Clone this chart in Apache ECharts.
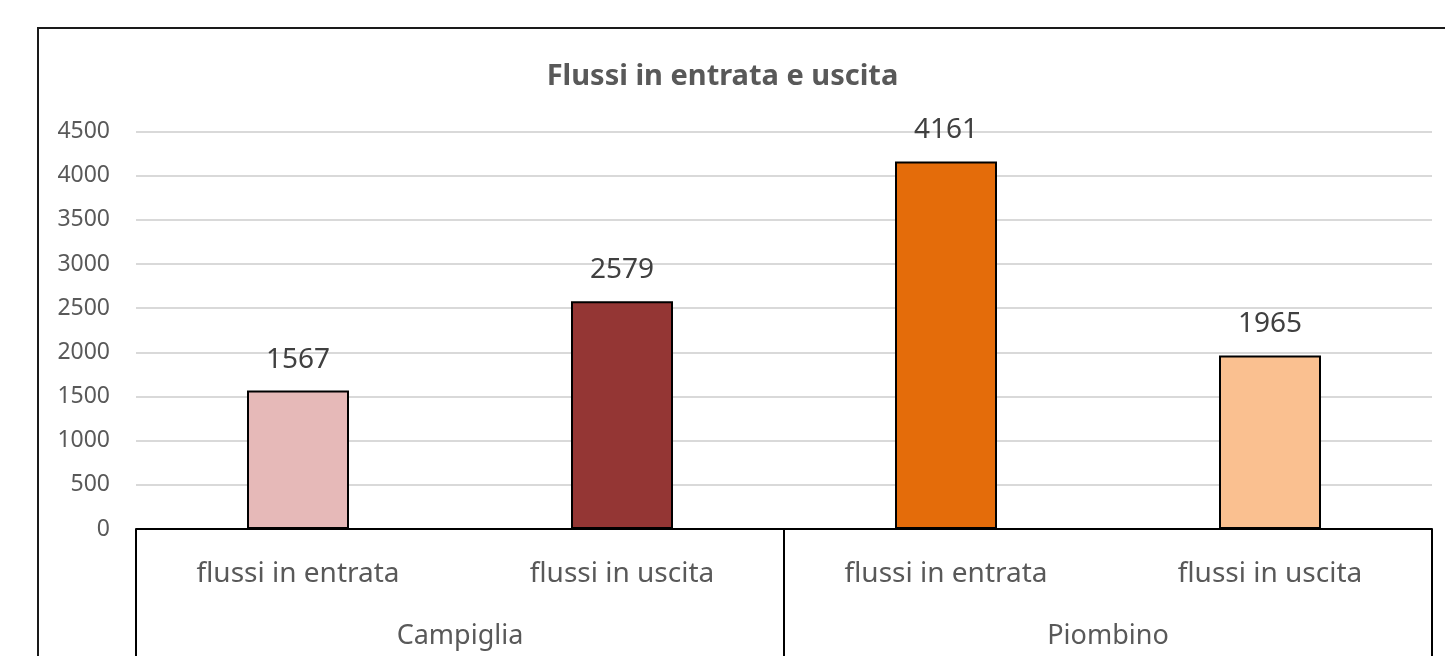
<!DOCTYPE html>
<html>
<head>
<meta charset="utf-8">
<style>
  html, body { margin: 0; padding: 0; background: #fff; }
  #chart { width: 1445px; height: 656px; }
</style>
<script src="https://cdn.jsdelivr.net/npm/echarts@6/dist/echarts.min.js"></script>
</head>
<body>
<div id="chart"></div>
<script>
// data
const categories = ['flussi in entrata', 'flussi in uscita', 'flussi in entrata', 'flussi in uscita']
const groups = ['Campiglia', 'Piombino']
const values = [1567, 2579, 4161, 1965]

// one colour per bar
const barColors = ['#E6B9B8', '#943634', '#E46C0A', '#FAC090']

const FONT = '"Noto Sans", "Open Sans", sans-serif'

const chart = echarts.init(document.getElementById('chart'))
chart.setOption({
  animation: false,
  title: {
    text: 'Flussi in entrata e uscita',
    left: 'center',
    top: 57,
    textStyle: { fontFamily: FONT, fontSize: 29, fontWeight: 'bold', color: '#595959' }
  },
  graphic: [{
    type: 'rect',
    shape: { x: 38, y: 28, width: 1500, height: 700 },
    style: { fill: 'none', stroke: '#1a1a1a', lineWidth: 2 },
    silent: true
  }],
  grid: { left: 136, right: 13, top: 131.5, bottom: 127 },
  xAxis: [{
    type: 'category',
    data: categories,
    axisLine: { lineStyle: { color: '#000', width: 2 } },
    axisTick: { show: false },
    axisLabel: { margin: 31, fontFamily: FONT, fontSize: 28, color: '#595959' }
  }, {
    type: 'category',
    data: groups,
    position: 'bottom',
    axisLine: { show: false },
    axisTick: { show: true, length: 140, lineStyle: { color: '#000', width: 2 } },
    axisLabel: { margin: 94, fontFamily: FONT, fontSize: 27, color: '#595959' }
  }],
  yAxis: {
    type: 'value',
    min: 0,
    max: 4500,
    interval: 500,
    axisLine: { show: false },
    axisTick: { show: false },
    splitLine: { lineStyle: { color: '#d9d9d9', width: 2 } },
    axisLabel: {
      margin: 26,
      fontFamily: FONT,
      fontSize: 23,
      color: '#595959',
      formatter: v => String(v)
    }
  },
  series: [{
    type: 'bar',
    xAxisIndex: 0,
    barWidth: 102,
    data: values.map((v, i) => ({
      value: v,
      itemStyle: { color: barColors[i], borderColor: '#000', borderWidth: 2 }
    })),
    label: {
      show: true,
      position: 'top',
      distance: 17,
      fontFamily: FONT,
      fontSize: 28,
      color: '#404040'
    }
  }]
})
</script>
</body>
</html>
